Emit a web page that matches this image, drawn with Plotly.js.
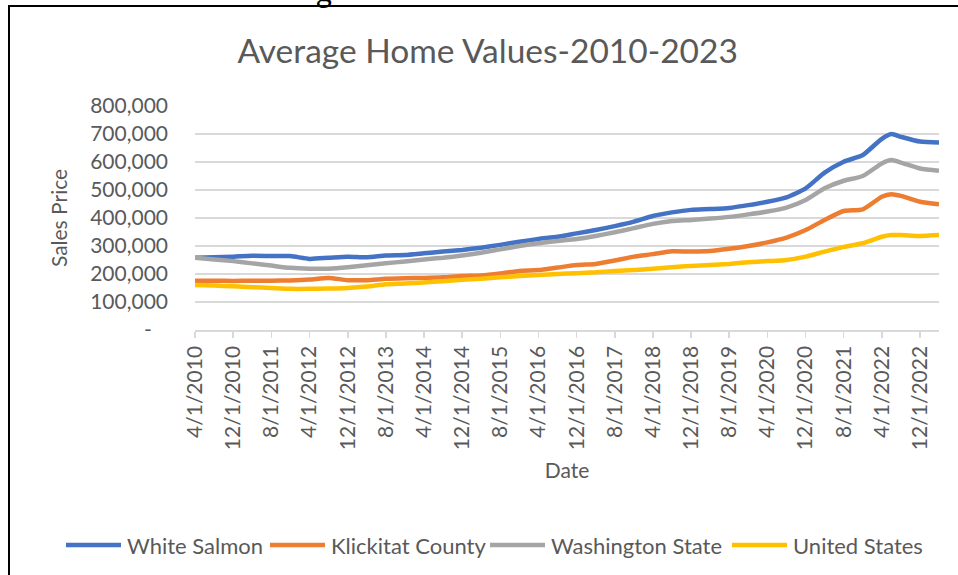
<!DOCTYPE html>
<html>
<head>
<meta charset="utf-8">
<script src="https://cdn.plot.ly/plotly-3.0.1.min.js"></script>
<style>
  html, body { margin: 0; padding: 0; background: #fff; overflow: hidden; }
  #chart { position: absolute; left: 0; top: 0; width: 958px; height: 575px; }
  #frame { position: absolute; left: 8px; top: 5px; width: 1000px; height: 1000px;
           border: 2px solid #000; pointer-events: none; }
  #cut { position: absolute; left: 316px; top: -28px; font-family: Lato, sans-serif;
         font-size: 31px; color: #000; pointer-events: none; }
</style>
</head>
<body>
<div id="chart"></div>
<div id="frame"></div>
<div id="cut">g</div>
<script>
const dates = ["2010-04-01","2010-08-01","2010-12-01","2011-04-01","2011-08-01","2011-12-01",
  "2012-04-01","2012-08-01","2012-12-01","2013-04-01","2013-08-01","2013-12-01",
  "2014-04-01","2014-08-01","2014-12-01","2015-04-01","2015-08-01","2015-12-01",
  "2016-04-01","2016-08-01","2016-12-01","2017-04-01","2017-08-01","2017-12-01",
  "2018-04-01","2018-08-01","2018-12-01","2019-04-01","2019-08-01","2019-12-01",
  "2020-04-01","2020-08-01","2020-12-01","2021-04-01","2021-08-01","2021-12-01",
  "2022-04-01","2022-06-01","2022-08-01","2022-12-01","2023-04-01"];

const whiteSalmon = [258000,260000,262000,265000,264000,264000,254000,258000,262000,260000,
  266000,268000,274000,280000,286000,294000,304000,315000,325000,333000,
  345000,357000,371000,387000,407000,420000,429000,432000,436000,446000,
  458000,474000,506000,562000,601000,625000,683000,700000,690000,673000,670000];

const klickitatCounty = [176000,176000,175000,176000,176000,177000,180000,186000,178000,178000,
  183000,185000,186000,188000,193000,195000,202000,211000,214000,223000,
  232000,236000,248000,262000,271000,281000,280000,282000,290000,300000,
  313000,330000,357000,393000,425000,431000,476000,485000,479000,458000,449000];

const washingtonState = [258000,252000,246000,238000,230000,222000,219000,219000,224000,231000,
  238000,245000,252000,258000,266000,276000,288000,300000,310000,318000,
  325000,336000,349000,364000,379000,389000,393000,398000,404000,413000,
  423000,437000,464000,506000,533000,550000,595000,607000,598000,577000,569000];

const unitedStates = [161000,159000,156000,153000,150000,147000,147000,148000,150000,155000,
  163000,166000,170000,174000,179000,183000,188000,193000,196000,200000,
  203000,206000,211000,214000,219000,224000,229000,232000,236000,242000,
  246000,250000,262000,280000,297000,310000,333000,339000,339000,336000,339000];

const tickDates = ["2010-04-01","2010-12-01","2011-08-01","2012-04-01","2012-12-01","2013-08-01",
  "2014-04-01","2014-12-01","2015-08-01","2016-04-01","2016-12-01","2017-08-01",
  "2018-04-01","2018-12-01","2019-08-01","2020-04-01","2020-12-01","2021-08-01",
  "2022-04-01","2022-12-01"];
const tickLabels = ["4/1/2010","12/1/2010","8/1/2011","4/1/2012","12/1/2012","8/1/2013",
  "4/1/2014","12/1/2014","8/1/2015","4/1/2016","12/1/2016","8/1/2017",
  "4/1/2018","12/1/2018","8/1/2019","4/1/2020","12/1/2020","8/1/2021",
  "4/1/2022","12/1/2022"];

const yTickVals = [0,100000,200000,300000,400000,500000,600000,700000,800000];
const yTickText = ["-\u00a0\u00a0\u00a0","100,000","200,000","300,000","400,000","500,000","600,000","700,000","800,000"];

const seriesNames = ["White Salmon","Klickitat County","Washington State","United States"];
const seriesData = [whiteSalmon, klickitatCounty, washingtonState, unitedStates];
const seriesColors = ["#4472C4","#ED7D31","#A5A5A5","#FFC000"];

const FONT = "Lato, 'Open Sans', sans-serif";
const TXT = "#595959";

// plot-area geometry (pixels) used to place the legend in paper coordinates
const PL = 195, PR = 939, PT = 106, PB = 330;
const px2x = p => (p - PL) / (PR - PL);
const px2y = p => (PB - p) / (PB - PT);
const legendY = 545;
const legendLineStart = [66, 270, 490, 732];
const legendLineLen = 55;
const legendTextGap = 4;

const traces = seriesNames.map((n, i) => ({
  type: "scatter", mode: "lines", name: n, x: dates, y: seriesData[i], showlegend: false,
  line: { color: seriesColors[i], width: 4.5, shape: "spline", smoothing: 0.6 }
}));

const shapes = seriesNames.map((n, i) => ({
  type: "line", xref: "paper", yref: "paper",
  x0: px2x(legendLineStart[i]), x1: px2x(legendLineStart[i] + legendLineLen),
  y0: px2y(legendY), y1: px2y(legendY),
  line: { color: seriesColors[i], width: 4.5 }
}));
const annotations = seriesNames.map((n, i) => ({
  text: n, xref: "paper", yref: "paper", showarrow: false,
  x: px2x(legendLineStart[i] + legendLineLen + legendTextGap), y: px2y(legendY),
  xanchor: "left", yanchor: "middle",
  font: { family: FONT, size: 22, color: TXT }
}));

const layout = {
  width: 958, height: 575,
  margin: { l: PL, r: 958 - PR, t: PT, b: 575 - PB },
  paper_bgcolor: "#fff", plot_bgcolor: "#fff",
  font: { family: FONT, color: TXT, size: 21 },
  showlegend: false,
  title: { text: "Average Home Values-2010-2023", font: { family: FONT, size: 33.5, color: TXT },
           xref: "container", x: 0.509, xanchor: "center", yref: "container", y: 0.91, yanchor: "middle" },
  xaxis: {
    type: "date", range: ["2010-04-01","2023-04-01"],
    tickmode: "array", tickvals: tickDates, ticktext: tickLabels, tickangle: -90,
    tickfont: { family: FONT, size: 21, color: TXT },
    showgrid: false, zeroline: false,
    showline: true, linecolor: "#d9d9d9", linewidth: 1.5,
    ticks: "outside", ticklen: 6, tickwidth: 1.5, tickcolor: "#d9d9d9",
    title: { text: "Date", font: { family: FONT, size: 21, color: TXT }, standoff: 14 }
  },
  yaxis: {
    range: [0, 800000], tickmode: "array", tickvals: yTickVals, ticktext: yTickText,
    tickfont: { family: FONT, size: 21, color: TXT },
    showgrid: true, gridcolor: "#d9d9d9", gridwidth: 1.3, zeroline: false, showline: false,
    ticks: "", ticklabelstandoff: 26,
    title: { text: "Sales Price", font: { family: FONT, size: 21, color: TXT }, standoff: 16 }
  },
  shapes: shapes,
  annotations: annotations
};

Plotly.newPlot("chart", traces, layout, { displayModeBar: false, staticPlot: true });
</script>
</body>
</html>
